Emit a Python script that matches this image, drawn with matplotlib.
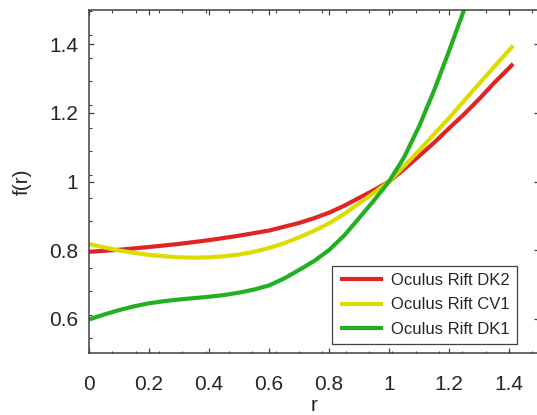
import matplotlib
matplotlib.use("Agg")
import matplotlib.pyplot as plt
from matplotlib.ticker import MultipleLocator

# ---- data ----
r_dk2 = [0.0, 0.1, 0.2, 0.3, 0.4, 0.5, 0.6, 0.7, 0.75, 0.8, 0.85, 0.9, 0.95, 1.0,
         1.05, 1.1, 1.15, 1.2, 1.25, 1.3, 1.35, 1.414]
f_dk2 = [0.795, 0.801, 0.809, 0.818, 0.829, 0.842, 0.857, 0.879, 0.893, 0.909, 0.929, 0.952, 0.975, 1.0,
         1.036, 1.074, 1.113, 1.155, 1.196, 1.24, 1.287, 1.343]

r_cv1 = [0.0, 0.05, 0.1, 0.15, 0.2, 0.25, 0.3, 0.35, 0.4, 0.45, 0.5, 0.55, 0.6, 0.65, 0.7,
         0.75, 0.8, 0.85, 0.9, 0.95, 1.0, 1.1, 1.2, 1.3, 1.414]
f_cv1 = [0.818, 0.808, 0.799, 0.792, 0.786, 0.782, 0.779, 0.778, 0.779, 0.782, 0.787, 0.795, 0.806, 0.820, 0.837,
         0.856, 0.878, 0.905, 0.936, 0.967, 1.0, 1.09, 1.185, 1.285, 1.396]

r_dk1 = [0.0, 0.05, 0.1, 0.15, 0.2, 0.25, 0.3, 0.35, 0.4, 0.45, 0.5, 0.55, 0.6, 0.65, 0.7, 0.75,
         0.8, 0.85, 0.9, 0.95, 1.0, 1.05, 1.1, 1.15, 1.2, 1.25, 1.3]
f_dk1 = [0.598, 0.612, 0.625, 0.636, 0.645, 0.651, 0.656, 0.660, 0.664, 0.669, 0.676, 0.685, 0.697, 0.717, 0.742, 0.768,
         0.800, 0.842, 0.893, 0.945, 1.0, 1.07, 1.16, 1.265, 1.38, 1.50, 1.63]

labels = ["Oculus Rift DK2", "Oculus Rift CV1", "Oculus Rift DK1"]
colors = ["#E02424", "#DCDC00", "#22B022"]

x_ticks = [0, 0.2, 0.4, 0.6, 0.8, 1, 1.2, 1.4]
x_tick_labels = ["0", "0.2", "0.4", "0.6", "0.8", "1", "1.2", "1.4"]
y_ticks = [0.6, 0.8, 1.0, 1.2, 1.4]
y_tick_labels = ["0.6", "0.8", "1", "1.2", "1.4"]

plt.rcParams['font.family'] = ['Liberation Sans', 'DejaVu Sans']

fig = plt.figure(figsize=(5.37, 4.15), dpi=100)
W, H = 537, 415
left, right, top, bottom = 89, 539, 10, 353
ax = fig.add_axes([left / W, (H - bottom) / H, (right - left) / W, (bottom - top) / H])

for rr, ff, lab, c in zip([r_dk2, r_cv1, r_dk1], [f_dk2, f_cv1, f_dk1], labels, colors):
    ax.plot(rr, ff, color=c, lw=3.0, label=lab, solid_capstyle='butt', solid_joinstyle='round')

ax.set_xlim(0, 1.5)
ax.set_ylim(0.5, 1.5)
ax.set_xticks(x_ticks)
ax.set_xticklabels(x_tick_labels)
ax.set_yticks(y_ticks)
ax.set_yticklabels(y_tick_labels)
ax.xaxis.set_minor_locator(MultipleLocator(0.0778))
ax.yaxis.set_minor_locator(MultipleLocator(0.068))

tc = "#262626"
ax.tick_params(which='major', direction='in', length=3.5, width=0.9, color="#404040",
               top=True, right=True, labelsize=15, labelcolor=tc)
ax.tick_params(axis='x', which='major', pad=16)
ax.tick_params(axis='y', which='major', pad=8)
ax.tick_params(which='minor', direction='in', length=1.8, width=0.8, color="#404040",
               top=True, right=True)
for s in ax.spines.values():
    s.set_color("#404040")
    s.set_linewidth(1.1)

ax.set_xlabel("r", fontsize=15, color=tc)
ax.set_ylabel("f(r)", fontsize=15, color=tc)
ax.xaxis.set_label_coords(0.5, -0.152)
ax.xaxis.label.set_va('center')
ax.yaxis.set_label_coords(-0.149, 0.5)
ax.yaxis.label.set_va('center')

leg = ax.legend(loc='lower right', bbox_to_anchor=((517 - left) / (right - left), (bottom - 344) / (bottom - top)),
                fontsize=12, frameon=True, fancybox=False, framealpha=1,
                edgecolor="#404040", handlelength=2.6, handletextpad=0.45,
                labelspacing=0.55, borderpad=0.45, borderaxespad=0)
leg.get_frame().set_linewidth(0.9)
for t in leg.get_texts():
    t.set_color(tc)

fig.savefig("out.png", dpi=100)
